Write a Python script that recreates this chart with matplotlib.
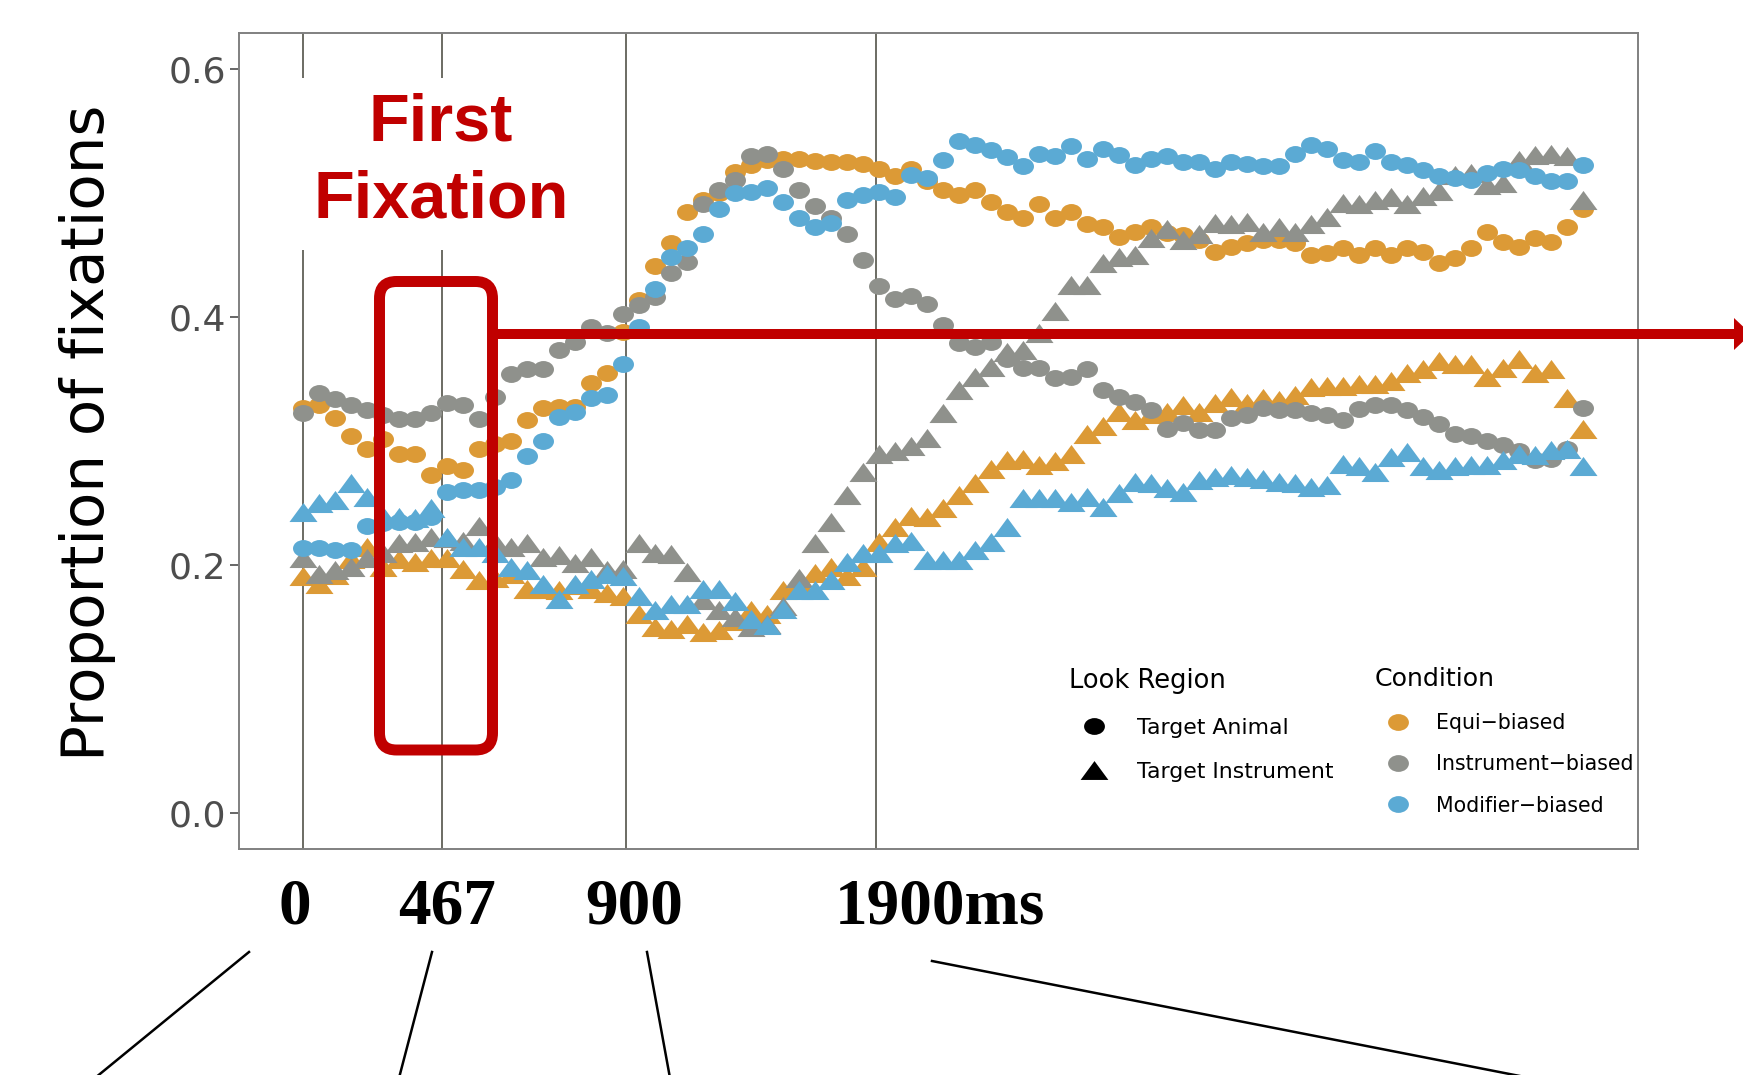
import numpy as np
import matplotlib
matplotlib.use('Agg')
import matplotlib.pyplot as plt
from matplotlib.path import Path
from matplotlib.markers import MarkerStyle
from matplotlib.lines import Line2D
from matplotlib.patches import FancyBboxPatch, Rectangle, Polygon
from matplotlib.transforms import Affine2D, IdentityTransform


W, H = 1743, 1075  # output size in pixels (dpi 100)

# 50 ms time bins from target onset
bins_ms = np.arange(81) * 50

conditions = ['Equi\u2212biased', 'Instrument\u2212biased', 'Modifier\u2212biased']
condition_colors = ['#DC9A36', '#8F918C', '#5BAAD4']
look_regions = ['Target Animal', 'Target Instrument']

# proportion of fixations on the target animal, per condition
animal_equi = [.327, .329, .319, .304, .294, .302, .290, .290, .273, .280,
               .277, .294, .298, .300, .317, .327, .328, .328, .347, .355,
               .388, .414, .441, .460, .485, .495, .500, .517, .523, .527,
               .528, .528, .526, .525, .525, .524, .520, .514, .520, .510,
               .503, .499, .503, .493, .485, .480, .491, .480, .485, .475,
               .473, .465, .469, .473, .468, .466, .462, .453, .457, .460,
               .462, .462, .460, .450, .452, .456, .450, .456, .450, .456,
               .453, .444, .448, .456, .469, .461, .457, .464, .461, .473,
               .487]
animal_instr = [.323, .339, .334, .329, .325, .321, .318, .318, .323, .331,
                .329, .318, .336, .354, .358, .358, .374, .380, .392, .387,
                .403, .410, .416, .436, .445, .491, .503, .511, .530, .532,
                .520, .503, .490, .480, .467, .446, .425, .415, .417, .411,
                .394, .379, .376, .380, .366, .359, .359, .351, .352, .358,
                .341, .336, .332, .325, .310, .315, .309, .309, .319, .321,
                .327, .325, .325, .323, .321, .317, .326, .329, .329, .325,
                .320, .314, .306, .304, .300, .297, .292, .285, .286, .294,
                .327]
animal_mod = [.214, .214, .212, .212, .232, .234, .235, .235, .239, .259,
              .261, .261, .263, .269, .288, .300, .320, .324, .335, .337,
              .362, .392, .423, .449, .456, .467, .487, .500, .501, .504,
              .493, .480, .473, .476, .495, .499, .501, .497, .515, .512,
              .527, .542, .539, .535, .529, .522, .532, .530, .538, .528,
              .536, .531, .523, .528, .530, .525, .525, .520, .525, .524,
              .522, .522, .532, .539, .536, .527, .525, .534, .525, .523,
              .519, .514, .512, .511, .516, .520, .519, .514, .510, .510,
              .523]

# proportion of fixations on the target instrument, per condition
instr_equi = [.191, .185, .192, .205, .215, .199, .205, .203, .206, .206,
              .197, .188, .190, .193, .181, .181, .180, .184, .181, .178,
              .175, .161, .150, .149, .153, .146, .148, .155, .164, .161,
              .180, .186, .194, .199, .191, .199, .219, .231, .240, .239,
              .246, .257, .266, .278, .285, .286, .281, .284, .290, .306,
              .312, .324, .317, .322, .324, .329, .324, .331, .336, .331,
              .335, .333, .337, .344, .345, .345, .346, .346, .349, .355,
              .358, .365, .362, .362, .352, .359, .366, .355, .358, .335,
              .310]
instr_instr = [.206, .193, .196, .199, .206, .210, .218, .219, .223, .222,
               .220, .232, .219, .215, .218, .207, .208, .202, .207, .196,
               .197, .218, .210, .209, .195, .172, .164, .158, .150, .153,
               .167, .190, .218, .235, .257, .275, .290, .292, .296, .303,
               .323, .341, .352, .360, .372, .374, .387, .405, .426, .426,
               .444, .449, .450, .464, .471, .462, .467, .476, .475, .477,
               .469, .473, .469, .475, .481, .492, .491, .495, .497, .491,
               .498, .502, .515, .516, .507, .508, .527, .531, .532, .530,
               .495]
instr_mod = [.243, .250, .253, .266, .255, .240, .239, .238, .246, .223,
             .215, .215, .210, .199, .196, .185, .173, .185, .189, .193,
             .191, .175, .164, .169, .169, .181, .181, .171, .157, .152,
             .165, .180, .180, .188, .203, .210, .210, .218, .220, .204,
             .204, .204, .212, .219, .231, .254, .254, .254, .251, .255,
             .247, .258, .267, .266, .262, .259, .269, .271, .273, .271,
             .270, .267, .266, .263, .265, .282, .280, .275, .287, .291,
             .280, .277, .280, .281, .281, .285, .290, .289, .293, .294,
             .280]

animal_series = [animal_equi, animal_instr, animal_mod]
instr_series = [instr_equi, instr_instr, instr_mod]

# time markers and their annotation text
event_ms = [0, 435, 1010, 1790]
event_labels = ['0', '467', '900', '1900ms']
event_label_px = [295, 447, 634, 940]

# oval and triangle markers (a bit wider than tall)
oval = MarkerStyle(Affine2D().scale(1.24, 1.0).transform_path(Path.unit_circle()))
tri = MarkerStyle(Path([(0, 0.68), (-1, -0.68), (1, -0.68), (0, 0.68)], closed=True))

red = '#C00000'
grey_txt = '#4D4D4D'

fig = plt.figure(figsize=(W / 100, H / 100), dpi=100)
ax = fig.add_axes([239.5 / W, 1 - 849 / H, (1637.5 - 239.5) / W, (849 - 33) / H])

for t in event_ms:
    ax.axvline(t, color='#6B6B63', lw=1.4, zorder=1)

for vals_a, vals_i, col in zip(animal_series, instr_series, condition_colors):
    ax.plot(bins_ms, vals_a, ls='none', marker=oval, ms=15.1, mew=0, color=col, zorder=3)
    ax.plot(bins_ms, vals_i, ls='none', marker=tri, ms=20.2, mew=0, color=col, zorder=3)

ax.set_xlim(-198.4, 4170)
ax.set_ylim(-0.0288, 0.6293)
ax.set_xticks([])
ax.set_yticks([0, 0.2, 0.4, 0.6])
ax.set_yticklabels(['0.0', '0.2', '0.4', '0.6'])
ax.tick_params(axis='y', length=6.5, width=1.2, color=grey_txt,
               labelsize=26, labelcolor=grey_txt, pad=3)
for sp in ax.spines.values():
    sp.set_color('#808080')
    sp.set_linewidth(1.4)

# legends
h_animal = Line2D([], [], ls='none', marker=oval, ms=15, mew=0, color='black')
h_instr = Line2D([], [], ls='none', marker=tri, ms=20, mew=0, color='black')
leg1 = ax.legend([h_animal, h_instr], look_regions, title='Look Region',
                 loc='upper left', bbox_to_anchor=(1069 / W, 1 - 667.5 / H),
                 bbox_transform=fig.transFigure, frameon=False,
                 fontsize=15.8, title_fontsize=18.5, alignment='left',
                 borderpad=0, borderaxespad=0, handlelength=2.25,
                 handletextpad=0.85, labelspacing=1.1)
ax.add_artist(leg1)
cond_handles = [Line2D([], [], ls='none', marker=oval, ms=15, mew=0, color=c)
                for c in condition_colors]
ax.legend(cond_handles, conditions, title='Condition',
          loc='upper left', bbox_to_anchor=(1375 / W, 1 - 667.5 / H),
          bbox_transform=fig.transFigure, frameon=False,
          fontsize=14.8, title_fontsize=18.2, alignment='left',
          borderpad=0, borderaxespad=0, handlelength=2.23,
          handletextpad=0.73, labelspacing=1.04)

fig.text(87.5 / W, 1 - 433 / H, 'Proportion of fixations', rotation=90,
         ha='center', va='center', fontsize=42.8, color='black')

# "First Fixation" callout
pix = IdentityTransform()
fig.add_artist(Rectangle((285, H - 250), 315, 172, transform=pix,
                         facecolor='white', edgecolor='none', zorder=4))
fig.text(441 / W, 1 - 140 / H, 'First', ha='center', va='baseline',
         fontsize=48, fontweight='bold', family='Liberation Sans', color=red, zorder=5)
fig.text(441 / W, 1 - 218 / H, 'Fixation', ha='center', va='baseline',
         fontsize=48, fontweight='bold', family='Liberation Sans', color=red, zorder=5)

fig.add_artist(FancyBboxPatch((379.5, H - 750), 113, 468.5,
                              boxstyle='round,pad=0,rounding_size=17',
                              transform=pix, facecolor='none', edgecolor=red,
                              lw=7.9, zorder=6))
fig.add_artist(Line2D([496, 1737], [H - 334, H - 334], transform=pix,
                      color=red, lw=7.2, solid_capstyle='butt', zorder=6))
fig.add_artist(Polygon([(1734, H - 318), (1734, H - 350), (1751, H - 334)],
                       closed=True, transform=pix, facecolor=red,
                       edgecolor='none', zorder=6))

# time labels under the axis and the zoom lines below them
for lab, xp in zip(event_labels, event_label_px):
    fig.text(xp / W, 1 - 924 / H, lab, ha='center', va='baseline',
             fontsize=47, fontweight='bold', family='Liberation Serif', color='black')

zoom_lines = [((249, 952), (95, 1078)), ((432, 952), (399, 1078)),
              ((647, 952), (670, 1078)), ((932, 961), (1530, 1078))]
for (x0, y0), (x1, y1) in zoom_lines:
    fig.add_artist(Line2D([x0, x1], [H - y0, H - y1], transform=pix,
                          color='black', lw=1.8, zorder=6))

fig.savefig('out.png', dpi=100, facecolor='white')
